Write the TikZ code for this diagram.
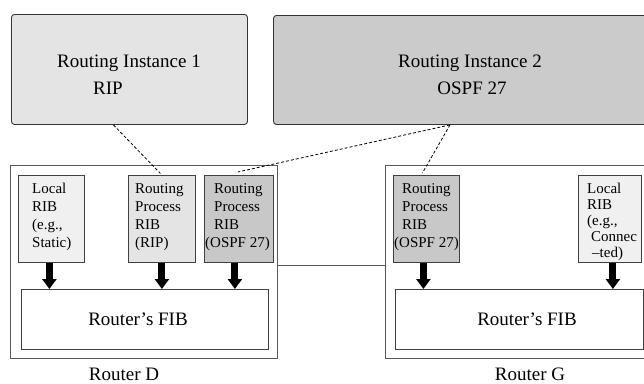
\documentclass[tikz,border=0pt]{standalone}
\usepackage{fontspec}
\setmainfont{Liberation Serif}
\usetikzlibrary{arrows.meta}
\definecolor{instA}{HTML}{E4E4E4}
\definecolor{instB}{HTML}{CBCBCB}
\definecolor{ribLocal}{HTML}{F0F0F0}
\definecolor{ribRip}{HTML}{E4E4E4}
\definecolor{ribOspf}{HTML}{C8C8C8}
\begin{document}
\begin{tikzpicture}[x=1pt,y=-1pt,
  inst/.style={draw=black!80, line width=0.9pt, rounded corners=3pt, anchor=north west, inner sep=0pt},
  router/.style={draw=black!65, line width=1.1pt, anchor=north west, inner sep=0pt},
  rib/.style={draw=black!75, line width=0.8pt, anchor=north west, inner sep=0pt, minimum height=87pt},
  ribtext/.style={anchor=north west, align=left, inner sep=0pt, font=\fontsize{15}{18}\selectfont},
  fib/.style={draw=black!75, line width=0.8pt, fill=white, anchor=north west, inner sep=0pt, minimum height=60pt},
  big/.style={inner sep=0pt, font=\fontsize{19}{22}\selectfont},
  link/.style={black, line width=0.8pt, dash pattern=on 3pt off 2pt},
  feed/.style={black, line width=7pt, -{Triangle[width=14pt,length=10pt]}},
  routerlink/.style={draw=black!65, line width=1.1pt},
]
\useasboundingbox (0,0) rectangle (644,383);
\fill[white] (0,0) rectangle (644,383);
\clip (0,0) rectangle (644,383);

% routing instances
\node[inst, fill=instA, minimum width=236pt, minimum height=110pt] (inst1) at (11,14) {};
\node[inst, fill=instB, minimum width=400pt, minimum height=109pt] (inst2) at (273,15) {};
\node[big] (inst1a) at (129,63) {Routing Instance 1};
\node[big, anchor=west] (inst1b) at (93,88) {RIP};
\node[big] (inst2a) at (470,63) {Routing Instance 2};
\node[big] (inst2b) at (472,88) {OSPF 27};

% routers
\node[router, minimum width=267pt, minimum height=193pt] (routerD) at (10,165) {};
\node[router, minimum width=270pt, minimum height=193pt] (routerG) at (385,165) {};
\draw[routerlink] ([yshift=-3.5pt]routerD.east) -- ([yshift=-3.5pt]routerD.east -| routerG.west);

% RIBs of router D
\node[rib, fill=ribLocal, minimum width=66pt] (lribD) at (18,175) {};
\node[rib, fill=ribRip, minimum width=67pt] (ripD) at (128,175) {};
\node[rib, fill=ribOspf, minimum width=69pt] (ospfD) at (204,175) {};
\node[ribtext] (lribDt) at (32,183) {Local\\RIB\\(e.g.,\\Static)};
\node[ribtext] (ripDt) at (135,183) {Routing\\Process\\RIB\\(RIP)};
\node[ribtext] (ospfDt) at (214,183) {Routing\\Process\\RIB\\\hspace*{-9pt}(OSPF 27)};

% RIBs of router G
\node[rib, fill=ribOspf, minimum width=66pt] (ospfG) at (393,175) {};
\node[rib, fill=ribLocal, minimum width=63pt] (lribG) at (578,175) {};
\node[ribtext] (ospfGt) at (402,183) {Routing\\Process\\RIB\\\hspace*{-8pt}(OSPF 27)};
\node[ribtext, font=\fontsize{15}{16}\selectfont] (lribGt) at (587,183) {Local\\RIB\\(e.g.,\\\hspace*{4pt}Connec\\\hspace*{5pt}–ted)};

% forwarding tables
\node[fib, minimum width=247pt] (fibD) at (21,289) {};
\node[fib, minimum width=248pt] (fibG) at (395,289) {};
\node[big] (fibDt) at (138,319) {Router’s FIB};
\node[big] (fibGt) at (527,319) {Router’s FIB};

% RIB to FIB feeds
\draw[feed] ([xshift=-2pt]lribD.south) -- ([xshift=-2pt]lribD.south |- fibD.north);
\draw[feed] (ripD.south) -- (ripD.south |- fibD.north);
\draw[feed] ([xshift=-4pt]ospfD.south) -- ([xshift=-4pt]ospfD.south |- fibD.north);
\draw[feed] ([xshift=-3pt]ospfG.south) -- ([xshift=-3pt]ospfG.south |- fibG.north);
\draw[feed] ([xshift=3pt]lribG.south) -- ([xshift=3pt]lribG.south |- fibG.north);

% instance to process links
\coordinate (hub) at ([xshift=177pt]inst2.south west);
\draw[link] ([xshift=-16pt]inst1.south) -- ([xshift=-1.5pt,yshift=1.5pt]ripD.north);
\draw[link] (hub) -- ([xshift=-1pt,yshift=3pt]ospfD.north);
\draw[link] (hub) -- ([xshift=-4pt,yshift=2pt]ospfG.north);

% router labels
\node[big] (labD) at (124,374) {Router D};
\node[big] (labG) at (530,374) {Router G};
\end{tikzpicture}
\end{document}
